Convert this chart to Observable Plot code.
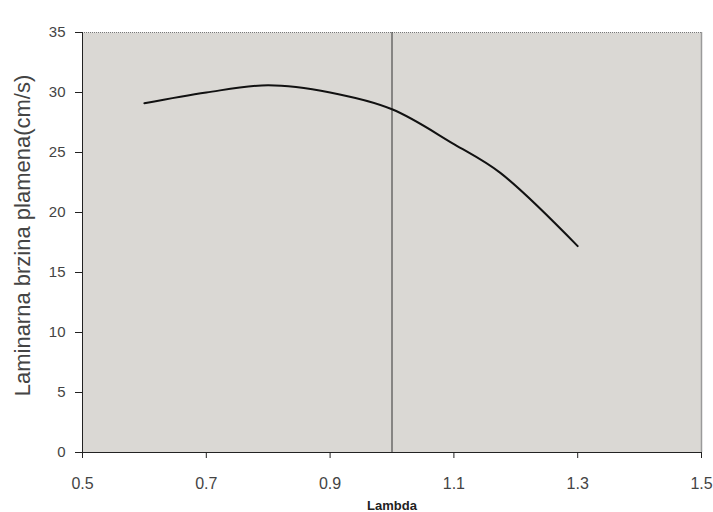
<!DOCTYPE html>
<html>
<head>
<meta charset="utf-8">
<script src="https://cdn.jsdelivr.net/npm/d3@7"></script>
<script src="https://cdn.jsdelivr.net/npm/@observablehq/plot@0.6"></script>
<style>
  html, body { margin: 0; padding: 0; background: #fff; }
  svg { display: block; }
</style>
</head>
<body>
<div id="chart"></div>
<script>
const lambda = [0.6, 0.7, 0.8, 0.9, 1.0, 1.1, 1.175, 1.3];
const speed  = [29.1, 30.0, 30.6, 30.0, 28.6, 25.7, 23.3, 17.2];
const xTicks = [0.5, 0.7, 0.9, 1.1, 1.3, 1.5];
const yTicks = [0, 5, 10, 15, 20, 25, 30, 35];
const markerX = [1.0];

const data = lambda.map((l, i) => ({lambda: l, speed: speed[i]}));

const chart = Plot.plot({
  width: 713,
  height: 512,
  marginLeft: 82,
  marginRight: 12,
  marginTop: 32,
  marginBottom: 60,
  style: {fontFamily: "'Liberation Sans', Arial, sans-serif", background: "#fff"},
  x: {domain: [0.5, 1.5], ticks: xTicks, tickFormat: d => d.toFixed(1), label: null},
  y: {domain: [0, 35], ticks: yTicks, label: null},
  marks: [
    Plot.frame({fill: "#dad8d4", stroke: null}),
    Plot.ruleY([35], {stroke: "#777", strokeWidth: 1, strokeDasharray: "1,1"}),
    Plot.ruleX([1.5], {stroke: "#9a9a9a", strokeWidth: 1.5}),
    Plot.ruleX(markerX, {stroke: "#333", strokeWidth: 1}),
    Plot.line(data, {x: "lambda", y: "speed", curve: "catmull-rom", stroke: "#111", strokeWidth: 2}),
    Plot.ruleX([0.5], {stroke: "#222", strokeWidth: 1}),
    Plot.ruleY([0], {stroke: "#222", strokeWidth: 1}),
    Plot.axisX({ticks: xTicks, tickFormat: d => d.toFixed(1), tickSize: 6, tickPadding: 19, fontSize: 16, fill: "#444", stroke: "#222", label: null}),
    Plot.axisY({ticks: yTicks, tickSize: 7, tickPadding: 10, fontSize: 15, fill: "#444", stroke: "#222", label: null}),
    Plot.text(["Lambda"], {frameAnchor: "bottom", dy: 57, fontSize: 13, fontWeight: "bold", fill: "#222"}),
    Plot.text(["Laminarna brzina plamena(cm/s)"], {frameAnchor: "left", textAnchor: "middle", dx: -60, dy: -7, rotate: -90, fontSize: 22, fill: "#444"})
  ]
});
document.getElementById("chart").appendChild(chart);
</script>
</body>
</html>
